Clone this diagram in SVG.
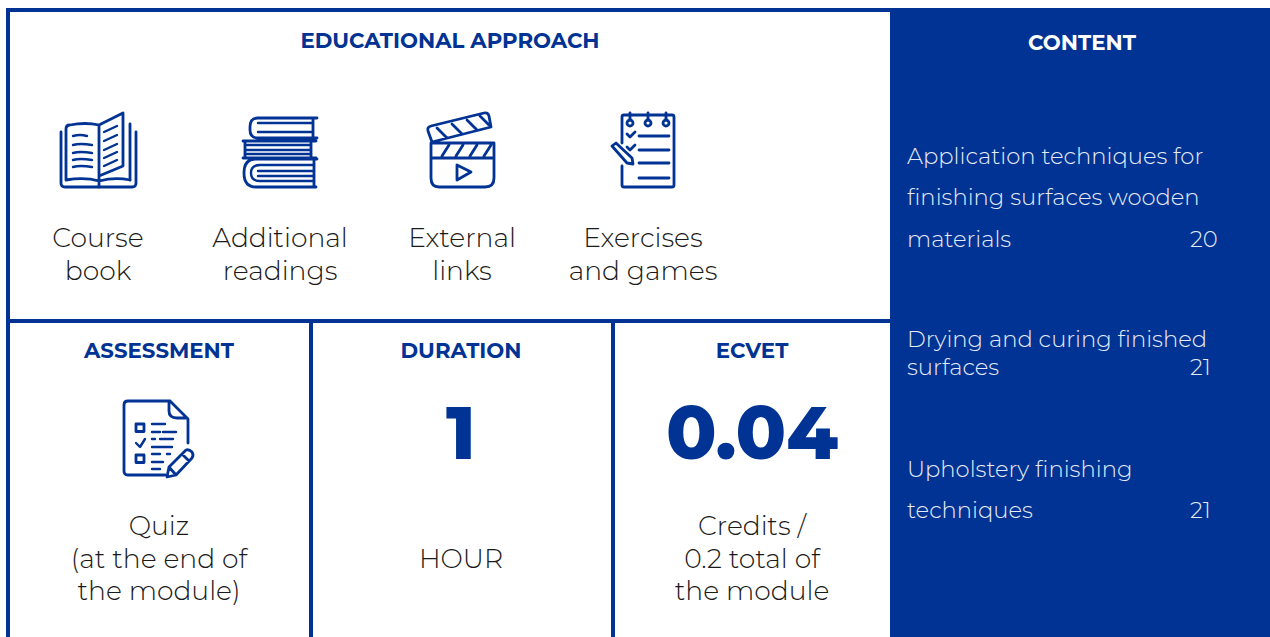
<svg xmlns="http://www.w3.org/2000/svg" width="1270" height="637" viewBox="0 0 1270 637">
<style>
text{font-family:"Montserrat","Inter","Noto Sans","Liberation Sans",sans-serif}
.h{font-size:21.3px;font-weight:700;fill:#003393;text-anchor:middle}
.b{font-size:26.6px;font-weight:300;fill:#1a1a1a;text-anchor:middle}
.c{font-size:22.7px;font-weight:300;fill:#e6ebf7}
.n{font-size:74px;font-weight:800;fill:#003393;text-anchor:middle}
.i{fill:none;stroke:#003393;stroke-width:2.8;stroke-linecap:round;stroke-linejoin:round}
.t{stroke-width:2.4}
</style>
<rect width="1270" height="637" fill="#fff"/>
<g id="frame" fill="#003393">
<rect x="6" y="8" width="884" height="4"/>
<rect x="6" y="8" width="4" height="629"/>
<rect x="6" y="319" width="884" height="4"/>
<rect x="309" y="320" width="4" height="317"/>
<rect x="611" y="320" width="4" height="317"/>
<rect x="890" y="8" width="380" height="629"/>
</g>
<g id="approach">
<text class="h" x="450" y="48">EDUCATIONAL APPROACH</text>
<g id="book" class="i">
<path d="M61 132V183Q61 187 65 187H132Q136 187 136 183V132M130 124V180"/>
<path d="M66 180V129Q66 125 70 125Q85 122 99 125V181Q85 177 66 180ZM99 187V181M99 181Q115 177 130 180M99 125L123 113V166L99 176"/>
<path class="t" d="M73 136Q80 134 87 136M73 145Q80 143 92 145M73 153Q80 151 92 153M73 160Q80 158 92 160M73 167Q80 165 92 167M104 132L117 126M104 141L117 135M104 150L117 144M104 158L117 152M104 166L117 160"/>
</g>
<g id="books" class="i">
<path d="M317 118H258Q250 118 250 127V130Q250 138 258 138H317M313 118V138M243 141H316M243 158H316M245 141V158M311 141V158M317 159H256Q244 159 244 173Q244 187 256 187H316M314 159V187"/>
<path class="t" d="M258 123H313M258 132H313M245 145H311M245 150H311M245 154H311M314 165H260Q251 165 251 173Q251 181 260 181H314M258 171H314M258 176H314"/>
</g>
<g id="clapper" class="i">
<path d="M432 142L428 131Q427 127 431 126L484 113Q488 112 489 116L491 127ZM431 143H494V178Q494 187 485 187H439Q431 187 431 178ZM431 158H494M437 128L447 138M452 124L462 134M467 120L477 130M480 116L489 125M442 156L449 145M456 156L463 145M470 156L477 145M484 156L491 145"/>
<path d="M457 165V180L471 172Z"/>
</g>
<g id="notepad" class="i">
<path d="M622 143V117Q622 115 624 115H672Q674 115 674 117V185Q674 187 672 187H624Q622 187 622 185V166"/>
<path d="M630 113V120M648 113V120M666 113V120M639 136H669M639 150H669M639 163H669M639 178H669M627 134L630 137L635 132M627 147L630 150L635 145"/>
<circle cx="630" cy="123" r="3"/><circle cx="648" cy="123" r="3"/><circle cx="666" cy="123" r="3"/>
<path d="M612 146L616 143L632 158L633 164L627 163Z"/>
</g>
<text class="b"><tspan x="98" y="247">Course</tspan><tspan x="98" y="280">book</tspan></text>
<text class="b"><tspan x="280" y="247">Additional</tspan><tspan x="280" y="280">readings</tspan></text>
<text class="b"><tspan x="462" y="247">External</tspan><tspan x="462" y="280">links</tspan></text>
<text class="b"><tspan x="643" y="247">Exercises</tspan><tspan x="643" y="280">and games</tspan></text>
</g>
<g id="assessment">
<text class="h" x="159" y="358">ASSESSMENT</text>
<g class="i">
<path d="M170 401H128Q124 401 124 405V471Q124 475 128 475H165M170 401L188 419V443M169 403V411Q169 418 177 418H187"/>
<rect x="136" y="424" width="8" height="7.500"/><rect x="136" y="455" width="8" height="7.500"/>
<path class="t" d="M136 443L140 447L145 439M152 424H165M152 432H160M163 432H176M152 439H155M160 439H173M152 447H172M152 454H160M167 454H170M152 462H163M152 469H160"/>
<path d="M167 477L169 467L186 450Q189 449 192 452Q194 455 192 458L176 475ZM182 454L189 461M169 467L176 475"/>
</g>
<text class="b"><tspan x="159" y="535">Quiz</tspan><tspan x="159" y="568">(at the end of</tspan><tspan x="159" y="600">the module)</tspan></text>
</g>
<g id="duration">
<text class="h" x="461" y="358">DURATION</text>
<text class="n" x="461" y="459">1</text>
<text class="b" x="461" y="568">HOUR</text>
</g>
<g id="ecvet">
<text class="h" x="752" y="358">ECVET</text>
<text class="n" x="752" y="459">0.04</text>
<text class="b"><tspan x="752" y="535">Credits /</tspan><tspan x="752" y="568">0.2 total of</tspan><tspan x="752" y="600">the module</tspan></text>
</g>
<g id="content">
<text x="1082" y="50" font-size="21.3" font-weight="700" fill="#fff" text-anchor="middle">CONTENT</text>
<text class="c"><tspan x="907" y="164">Application techniques for</tspan><tspan x="907" y="205">finishing surfaces wooden</tspan><tspan x="907" y="247">materials</tspan><tspan x="1190" y="247">20</tspan></text>
<text class="c"><tspan x="907" y="347">Drying and curing finished</tspan><tspan x="907" y="375">surfaces</tspan><tspan x="1190" y="375">21</tspan></text>
<text class="c"><tspan x="907" y="477">Upholstery finishing</tspan><tspan x="907" y="518">techniques</tspan><tspan x="1190" y="518">21</tspan></text>
</g>
</svg>
